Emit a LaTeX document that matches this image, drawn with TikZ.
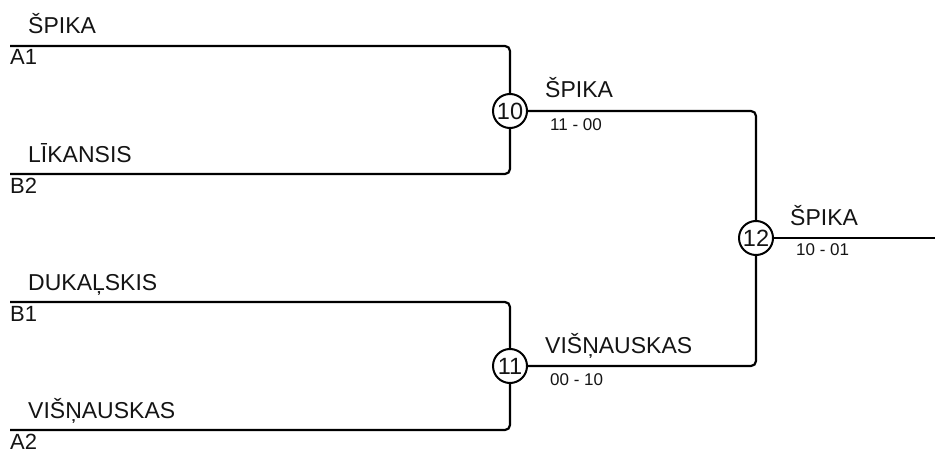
\documentclass[tikz,border=0pt]{standalone}
\usepackage{fontspec}
\setmainfont{Liberation Sans}
\usepackage{xcolor}
\usetikzlibrary{positioning,calc}
\definecolor{linkblack}{RGB}{0,0,0}
\definecolor{textblack}{RGB}{20,20,20}

\tikzset{
  bracket/.style={draw=linkblack, line width=2.2pt, rounded corners=5pt},
  matchcircle/.style={circle, draw=linkblack, line width=2pt, fill=white, minimum size=34pt, inner sep=0pt, text=textblack, font=\fontsize{23.5}{23.5}\selectfont},
  teamlabel/.style={anchor=base west, inner sep=0pt, text=textblack, font=\fontsize{23}{23}\selectfont},
  seedlabel/.style={anchor=base west, inner sep=0pt, text=textblack, font=\fontsize{22}{22}\selectfont},
  scorelabel/.style={anchor=base west, inner sep=0pt, text=textblack, font=\fontsize{17}{17}\selectfont}
}

\begin{document}
\begin{tikzpicture}[x=1pt, y=-1pt]
\useasboundingbox (0,0) rectangle (935,452);

% sākuma līnijas
\coordinate (a1) at (10,46);
\coordinate (b2) at (10,174);
\coordinate (b1) at (10,302);
\coordinate (a2) at (10,430);
\coordinate (fin) at (935,238);

% spēļu apļi
\node[matchcircle] (m10) at (510,111) {10};
\node[matchcircle] (m11) at (510,366) {11};
\node[matchcircle] (m12) at (756,238) {12};

% savienojumi
\draw[bracket] (a1) -| (m10.north);
\draw[bracket] (b2) -| (m10.south);
\draw[bracket] (b1) -| (m11.north);
\draw[bracket] (a2) -| (m11.south);
\draw[bracket] (m10.east) -| (m12.north);
\draw[bracket] (m11.east) -| (m12.south);
\draw[bracket] (m12.east) -- (fin);

% komandas un izlozes vietas
\node[teamlabel] (t1) at (28,34) {ŠPIKA};
\node[seedlabel] (s1) at (10,65) {A1};
\node[teamlabel] (t2) at (28,162) {LĪKANSIS};
\node[seedlabel] (s2) at (10,193) {B2};
\node[teamlabel] (t3) at (28,290) {DUKAĻSKIS};
\node[seedlabel] (s3) at (10,321) {B1};
\node[teamlabel] (t4) at (28,418) {VIŠŅAUSKAS};
\node[seedlabel] (s4) at (10,449) {A2};

% uzvarētāji un rezultāti
\node[teamlabel] (w10) at (545,98) {ŠPIKA};
\node[scorelabel] (r10) at (550,130) {11 - 00};
\node[teamlabel] (w11) at (545,353) {VIŠŅAUSKAS};
\node[scorelabel] (r11) at (550,385) {00 - 10};
\node[teamlabel] (w12) at (790,225) {ŠPIKA};
\node[scorelabel] (r12) at (796,255) {10 - 01};

\end{tikzpicture}
\end{document}
